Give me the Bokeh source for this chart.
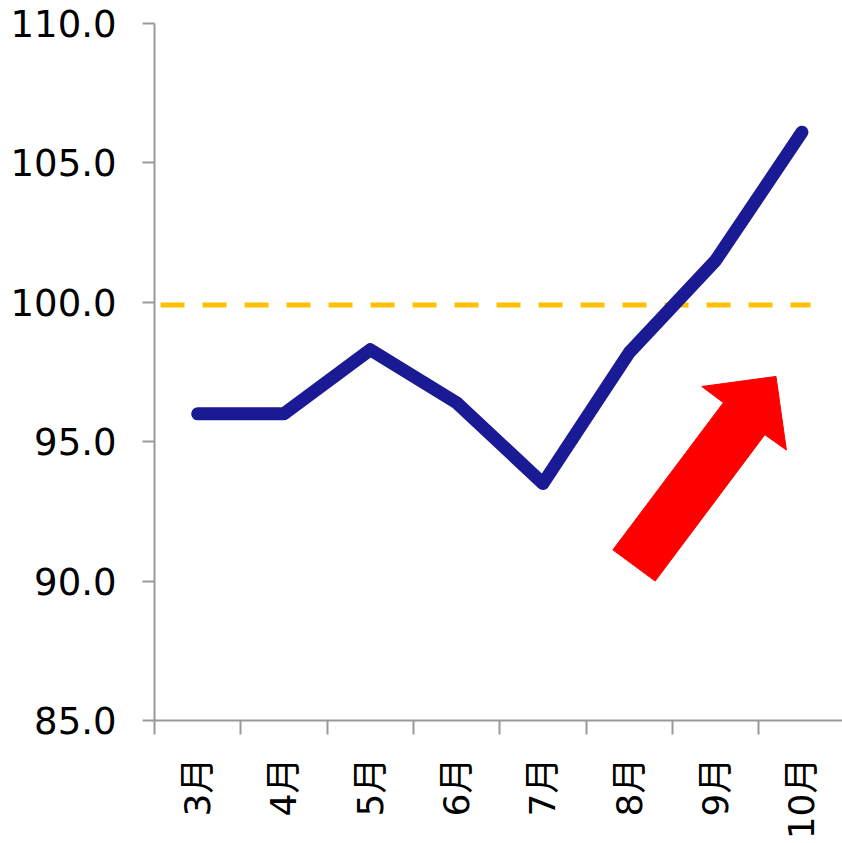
import math
from bokeh.plotting import figure
from bokeh.models import FixedTicker, NumeralTickFormatter, Range1d
from bokeh.embed import file_html
from bokeh.resources import INLINE

months = ["3月", "4月", "5月", "6月", "7月", "8月", "9月", "10月"]
values = [96.0, 96.0, 98.3, 96.4, 93.5, 98.2, 101.5, 106.1]
ref_value = 99.9
ref_x = [0.07, 7.6]
arrow_x = [5.31, 5.80, 7.07, 7.32, 7.20, 6.34, 6.59]
arrow_y = [91.12, 90.0, 95.25, 94.70, 97.34, 96.98, 96.40]
y_ticks = [85, 90, 95, 100, 105, 110]

centers = [i + 0.5 for i in range(len(months))]
bounds = [i for i in range(len(months) + 1)]

FONT = "'DejaVu Sans', 'Noto Sans CJK JP'"

p = figure(width=842, height=843, output_backend="svg", toolbar_location=None,
           x_range=Range1d(0, 7.97), y_range=Range1d(85, 110),
           min_border_left=154, min_border_top=23, min_border_bottom=123,
           min_border_right=0)
p.outline_line_color = None
p.xgrid.visible = False
p.ygrid.visible = False

# axes
p.yaxis.ticker = FixedTicker(ticks=y_ticks)
p.yaxis.formatter = NumeralTickFormatter(format="0.0")
p.yaxis.major_tick_out = 12
p.yaxis.major_tick_in = 0
p.yaxis.minor_tick_line_color = None
p.yaxis.axis_line_color = "#999999"
p.yaxis.major_tick_line_color = "#999999"
p.yaxis.axis_line_width = 2
p.yaxis.major_tick_line_width = 2
p.yaxis.major_label_text_font = FONT
p.yaxis.major_label_text_font_size = "37px"
p.yaxis.major_label_text_color = "#000000"
p.yaxis.major_label_standoff = 26

p.xaxis.ticker = FixedTicker(ticks=centers, minor_ticks=bounds)
p.xaxis.major_label_overrides = {c: m for c, m in zip(centers, months)}
p.xaxis.major_tick_out = 14
p.xaxis.major_tick_in = 0
p.xaxis.major_tick_line_color = None
p.xaxis.minor_tick_out = 14
p.xaxis.minor_tick_in = 0
p.xaxis.minor_tick_line_color = "#999999"
p.xaxis.minor_tick_line_width = 2
p.xaxis.axis_line_color = "#999999"
p.xaxis.axis_line_width = 2
p.xaxis.major_label_orientation = math.pi / 2
p.xaxis.major_label_text_font = FONT
p.xaxis.major_label_text_font_size = "36px"
p.xaxis.major_label_text_color = "#000000"
p.xaxis.major_label_standoff = 23

# reference dashed line
p.line(ref_x, [ref_value, ref_value], line_color="#FFC000", line_width=5,
       line_dash="24 18")

# main series
p.line(centers, values, line_color="#1A1A94", line_width=13,
       line_cap="round", line_join="round")

# arrow
p.patch(arrow_x, arrow_y, fill_color="#FF0000", line_color="#FF0000", line_width=1)

open("out.html", "w").write(file_html(p, INLINE))
